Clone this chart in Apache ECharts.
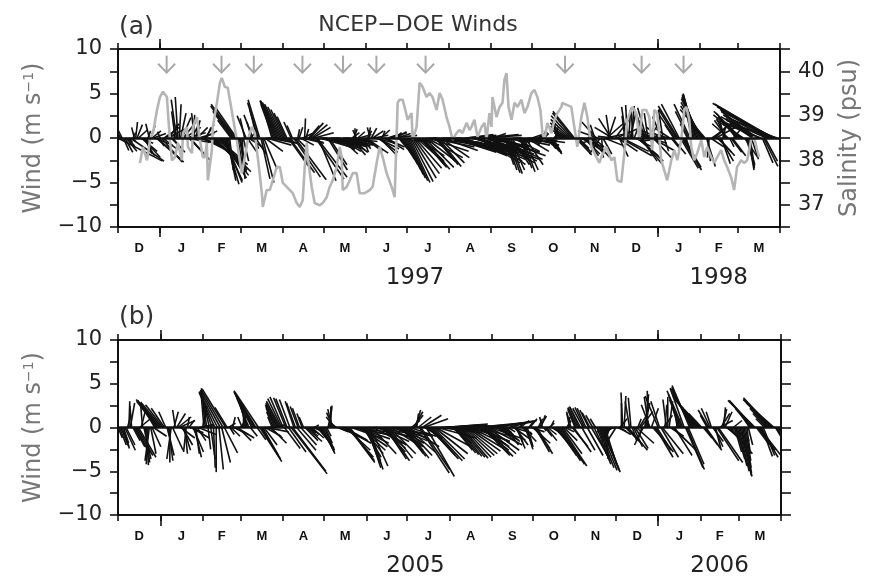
<!DOCTYPE html>
<html><head><meta charset="utf-8">
<script src="https://cdn.jsdelivr.net/npm/echarts@6/dist/echarts.min.js"></script>
<style>html,body{margin:0;padding:0;background:#fff}#c{width:870px;height:578px}</style>
</head><body><div id="c"></div>
<script>
// ---- axis categories (days since 1 Dec of first year) ----
const monthStarts = [0,31,62,90,121,151,182,212,243,274,304,335,365,396,427,455,486];
const monthLetters = ['D','J','F','M','A','M','J','J','A','S','O','N','D','J','F','M'];
const yearTicks = [31, 396];
const yearLabelPos = [218, 441];
const yearsA = ['1997','1998'];
const yearsB = ['2005','2006'];
const windTicks = [-10,-5,0,5,10];
const salinityTicks = [37,38,39,40];

// ---- gray arrows (days) ----
const arrowDays = [35.7,76,99.7,135.4,165.2,189.7,225.8,328.2,384.4,415.2];
const arrowLevel = 8.3;

// ---- panel (a) daily wind [u, v] m/s, 1 Dec 1996 - 31 Mar 1998 ----
const windA = [
[5.0,-2.6],[-0.6,1.2],[-0.8,1.4],[-0.5,1.0],[0.6,-1.4],[0.9,-1.6],[1.2,-1.5],[0.8,-0.9],[0.4,-0.5],[3.8,-2.6],[0.5,-0.4],
[0.3,0.6],[-0.3,1.2],[0.2,1.8],[0.6,1.5],[1.0,0.9],[1.5,-0.6],[1.8,-1.5],[2.0,-2.2],[1.2,-2.0],[0.8,-1.8],
[0.5,-1.2],[0.3,0.8],[-0.4,1.6],[0.5,1.4],[1.0,0.8],[1.4,0.5],[2.0,-0.8],[3.1,-2.7],[2.8,-2.6],[0.6,-0.9],
[-0.3,0.7],[2.3,-2.7],[1.5,-1.2],[0.8,0.6],[1.5,1.2],[2.0,1.0],[1.2,1.6],[0.5,0.4],[0.8,-0.8],[1.4,-1.6],
[0.3,1.5],[-0.4,3.0],[-0.6,4.3],[-0.3,4.6],[0.2,3.8],[0.6,2.8],[1.0,2.3],[1.4,1.8],[1.8,1.2],[2.2,0.6],
[2.5,-0.5],[2.4,-2.5],[1.6,-1.8],[0.8,1.5],[0.2,2.6],[-0.3,2.8],[0.5,2.0],[1.2,1.2],[1.8,0.5],[2.0,-0.6],
[2.5,-1.0],[2.8,-1.4],[1.5,0.8],[1.0,1.5],[0.5,1.2],[1.8,-0.6],[3.0,-2.0],[3.5,-2.8],[3.6,-3.2],[3.8,-3.6],
[3.2,-3.4],[2.8,-2.6],[3.4,-3.0],[3.6,-3.8],[3.2,-4.2],[2.8,-4.5],[2.2,-4.8],[2.0,-5.0],[1.5,-5.2],[1.0,-4.8],
[0.8,-4.2],[0.4,-3.6],[-1.5,2.0],[-2.2,3.0],[-2.6,3.6],[-2.7,3.8],[-2.4,3.5],[0.5,-3.0],[0.8,-3.8],[0.5,-4.6],
[0.3,-3.8],[0.6,-2.6],[-0.5,2.2],[-1.0,2.5],[1.0,-1.5],[1.5,-1.0],[0.8,0.8],[-0.5,1.8],[-1.0,2.6],[0.5,-1.2],
[1.2,-1.8],[-0.8,3.2],[-1.2,4.0],[-1.3,4.3],[1.0,-4.6],[1.3,-5.0],[1.5,-3.5],[2.0,-1.5],[2.8,-0.8],[3.0,-0.4],
[3.2,-0.6],[2.5,-0.3],[-0.8,2.8],[-1.4,3.8],[-1.6,4.1],[-1.8,4.2],[-1.9,4.2],[-2.0,4.1],[-2.0,4.0],[-1.9,3.8],
[-1.7,3.5],[-1.5,3.2],[-1.3,2.8],[-1.1,2.4],[2.5,-3.5],[2.8,-3.9],[-0.8,1.8],[-0.6,1.4],[3.0,-4.4],[3.5,-4.7],
[1.0,-1.0],[0.2,1.0],[0.4,1.2],[1.5,-0.8],[2.5,-0.6],[1.0,0.5],[0.1,2.2],[0.3,1.0],[1.8,-0.5],[1.2,1.4],
[1.5,1.7],[1.8,1.5],[2.0,1.2],[2.2,0.6],[3.2,-4.6],[3.4,-4.4],[2.0,-4.8],[3.5,-1.0],[4.0,-0.8],[4.2,-0.6],
[4.0,-0.8],[3.6,-1.0],[3.2,-1.2],[2.2,-3.6],[2.0,-3.0],[3.5,-1.2],[4.0,-1.0],[4.2,-0.9],[3.8,-0.7],[3.5,-0.6],
[3.0,-0.8],[2.5,-1.5],[2.0,-1.8],[1.5,-1.4],[2.6,-0.8],[3.2,-0.5],[3.6,-0.4],[3.0,-0.8],[2.2,-1.6],[1.8,-1.9],
[1.5,-1.3],[0.8,0.6],[0.4,1.0],[0.0,1.1],[-0.4,0.9],[0.8,0.7],[1.4,0.4],[1.2,-0.6],[1.0,-1.2],[0.6,-1.6],
[2.0,-1.5],[2.5,-1.7],[0.5,0.8],[0.2,1.2],[-0.3,1.2],[0.6,1.1],[1.2,0.8],[1.6,0.3],[2.2,-0.6],[2.5,-1.2],
[2.2,-1.6],[1.8,-1.8],[1.0,0.9],[0.3,0.8],[1.5,-0.7],[2.2,-1.0],[2.0,-1.3],[1.2,0.4],[2.0,0.6],[3.0,0.3],
[4.0,-0.3],[4.5,-0.5],[0.8,0.6],[1.2,0.7],[1.5,0.5],[1.0,-1.2],[1.3,-1.8],[1.5,-2.4],[1.7,-3.0],[1.9,-3.6],
[2.0,-4.1],[2.1,-4.5],[2.2,-4.8],[2.3,-5.0],[2.5,-4.9],[2.7,-4.5],[2.9,-4.0],[3.0,-3.4],[3.2,-2.8],[3.0,-2.0],
[2.8,-2.6],[2.7,-3.0],[2.8,-3.3],[3.0,-3.5],[3.3,-3.3],[3.6,-2.8],[4.0,-2.2],[4.5,-1.5],[5.0,-1.0],[5.4,-0.6],
[5.5,-0.5],[5.0,-0.8],[2.2,-2.6],[2.4,-3.0],[2.6,-3.2],[2.8,-2.8],[3.2,-2.2],[4.0,-1.4],[5.0,-1.0],[5.5,-0.9],
[5.8,-1.0],[6.0,-1.1],[5.6,-1.3],[5.2,-1.5],[5.0,-1.6],[4.6,-1.2],[4.2,-0.8],[4.8,-1.0],[5.4,-1.3],[5.8,-1.5],
[6.0,-1.7],[5.6,-1.9],[5.0,-2.0],[4.5,-1.8],[3.5,0.3],[3.0,0.4],[4.0,0.2],[5.0,-0.5],[5.6,-1.2],[6.0,-1.6],
[6.2,-2.0],[5.8,-2.2],[5.5,-2.4],[5.0,-2.6],[4.6,-2.8],[4.0,-1.5],[4.5,0.3],[4.0,0.4],[5.0,-1.0],[5.4,-1.8],
[5.8,-2.4],[5.2,-2.8],[4.0,-3.0],[2.5,-0.6],[1.5,0.5],[4.0,-1.0],[5.0,-1.6],[5.5,-2.0],[5.0,-2.4],[4.2,-2.6],
[3.0,-2.2],[2.0,-1.0],[3.0,-0.5],[1.0,-3.0],[1.2,-3.6],[1.4,-3.9],[1.5,-4.0],[1.6,-3.6],[2.0,-3.0],[3.0,-1.5],
[4.0,-0.8],[4.5,-0.5],[3.5,-0.3],[2.5,-0.5],[1.0,-2.6],[1.2,-3.4],[1.4,-3.8],[1.6,-3.6],[2.0,-3.0],[2.5,-1.5],
[3.5,-0.8],[4.0,-0.5],[3.0,-0.3],[1.5,0.5],[0.8,-0.4],[0.5,-0.8],[0.6,-0.5],[0.8,0.4],[1.0,0.6],[0.6,0.5],
[0.4,0.4],[0.3,0.8],[0.5,0.5],[0.8,-0.8],[1.0,-1.2],[1.2,-1.5],[1.3,-1.7],[1.2,-1.8],[1.0,-1.6],[0.6,0.6],
[0.3,1.2],[-0.2,1.6],[-0.6,1.8],[-0.8,2.0],[-1.0,1.5],[0.5,0.3],[-0.5,0.3],[-1.2,0.6],[-1.6,0.9],[-1.9,1.3],
[-2.1,1.7],[-2.2,2.1],[-2.3,2.5],[-2.3,2.8],[-2.4,3.0],[1.8,-1.9],[1.5,-1.5],[1.2,-1.2],[2.0,-0.8],[2.5,-1.0],
[2.2,-1.4],[1.8,-1.8],[1.5,-2.0],[0.8,-1.2],[0.5,0.4],[0.2,0.8],[1.5,-1.8],[2.0,-2.2],[1.2,-1.0],[-0.5,1.5],
[-1.6,1.8],[-2.2,0.8],[-2.0,-0.6],[-1.2,-1.8],[0.2,-2.2],[1.0,-1.8],[2.0,-0.8],[2.4,0.5],[1.8,1.6],[0.8,2.4],
[-0.4,2.6],[-1.4,2.2],[-2.0,1.2],[-1.8,0.2],[1.5,2.0],[2.3,1.0],[2.2,-1.5],[1.0,-2.1],[3.5,-2.0],[3.0,-1.5],
[0.5,0.8],[-0.3,2.5],[-0.5,3.5],[-0.2,3.7],[0.2,3.2],[0.6,2.6],[0.3,3.6],[-0.2,3.4],[0.8,2.2],[1.8,-1.0],
[2.4,-2.0],[2.8,-2.6],[2.5,-2.9],[1.8,-2.6],[1.2,-2.0],[-0.8,2.6],[-1.2,3.2],[-1.0,3.4],[-0.4,2.8],[1.0,1.5],
[1.8,-0.6],[2.5,-1.4],[2.0,-2.2],[-1.5,0.5],[-2.0,0.2],[-2.0,0.4],[-1.8,0.8],[-1.5,1.2],[-1.0,2.4],[-0.5,3.2],
[0.5,-1.5],[-2.2,0.3],[-2.5,-0.3],[-2.0,0.6],[-1.5,1.0],[1.0,-1.2],[1.5,-1.8],[-1.0,1.5],[-1.8,2.6],[-2.0,3.2],
[-2.2,3.6],[-2.0,3.8],[2.0,-3.4],[2.2,-3.6],[2.0,-3.3],[1.2,-2.4],[0.5,-1.5],[-0.8,1.6],[-1.5,3.0],[-1.8,3.8],
[-0.8,4.3],[-1.0,4.6],[-1.2,4.8],[-1.4,5.0],[-1.6,4.9],[-1.8,4.8],[-2.0,4.6],[-2.2,4.4],[-2.4,4.0],[-2.6,3.6],
[-2.8,3.2],[1.0,-3.2],[0.3,-2.6],[-0.2,-2.2],[1.5,-1.0],[1.2,0.8],[1.6,1.4],[2.0,1.8],[2.2,1.2],[1.6,-1.6],
[1.8,-2.0],[1.5,-2.6],[1.0,-2.9],[0.4,1.5],[-0.5,2.0],[-1.0,2.2],[-1.4,2.0],[-1.8,1.6],[0.5,-1.0],[1.2,-1.6],
[1.5,-2.0],[0.8,1.0],[-0.6,1.4],[-1.5,1.8],[-2.2,2.4],[-2.6,2.8],[-3.0,3.0],[-3.2,2.6],[-3.0,2.0],[1.5,-2.2],
[1.0,-3.0],[0.8,-3.4],[0.6,-3.6],[0.5,-3.2],[0.8,-2.4],[-2.5,1.6],[-3.2,2.2],[-3.6,2.6],[-4.0,3.0],[-4.2,2.4],
[-4.0,1.8],[-3.6,1.4],[1.2,-2.8],[1.6,-3.2],[1.4,-2.6],[-4.5,2.0],[-5.0,2.6],[-5.5,3.2],[-6.0,3.5],[-6.4,3.8],
[-6.8,3.9],[-6.0,3.0],[-5.2,2.2],[-4.6,1.4],[2.0,-2.8]
];

// ---- panel (a) salinity [day, psu] ----
const salinity = [
[16.1,37.94],[18.3,38.30],[21.3,38.00],[23.5,38.46],[25.7,38.61],[28.6,39.13],[30.8,39.42],[33.0,39.54],[35.9,39.42],[36.7,39.06],
[38.1,38.46],[39.6,38.00],[41.8,38.07],[44.0,38.39],[46.9,38.00],[47.7,38.61],[50.6,38.75],[51.3,38.30],[54.3,38.16],[55.0,38.75],
[57.9,38.97],[60.1,38.46],[62.3,38.07],[63.8,38.07],[65.2,38.39],[66.0,37.55],[68.9,38.23],[69.6,38.75],[72.6,39.29],[74.8,39.74],
[76.2,39.85],[78.4,39.65],[80.6,39.63],[82.1,39.36],[84.3,38.97],[87.2,38.46],[89.4,38.00],[90.9,37.71],[93.1,38.07],[95.3,38.46],
[98.2,38.75],[100.4,38.61],[102.6,38.07],[105.6,37.26],[106.3,36.95],[109.2,37.33],[111.4,37.33],[113.6,37.55],[116.6,37.85],[118.8,37.85],
[121.0,37.49],[123.9,37.40],[126.1,37.33],[128.3,37.26],[131.2,37.04],[133.4,36.95],[135.6,37.10],[137.1,37.85],[138.6,38.39],[139.3,38.07],
[142.2,37.40],[144.4,37.04],[148.1,36.99],[150.3,37.04],[153.2,37.17],[155.4,37.40],[157.6,37.55],[160.6,37.85],[162.8,38.30],[164.2,38.07],
[165.0,37.33],[167.9,37.40],[170.1,37.55],[172.3,37.71],[175.2,37.71],[177.4,37.26],[181.1,37.26],[184.8,37.33],[186.9,37.40],[189.9,37.94],
[192.1,38.30],[194.3,38.07],[197.2,37.71],[200.9,37.40],[203.1,37.17],[205.3,39.29],[206.7,39.36],[208.9,39.36],[210.4,39.20],[212.6,38.91],
[215.5,39.06],[216.3,38.46],[219.2,38.75],[221.4,39.74],[223.6,39.65],[226.5,39.42],[228.7,39.51],[230.9,39.42],[233.9,39.13],[236.1,39.51],
[238.3,39.36],[241.2,38.97],[243.4,38.75],[245.6,38.46],[248.5,38.61],[250.7,38.68],[252.9,38.61],[255.9,38.84],[258.1,38.68],[259.5,38.75],
[261.7,38.91],[263.9,38.52],[266.9,38.75],[269.1,38.84],[270.5,38.46],[272.7,39.06],[274.2,38.75],[274.9,39.42],[277.9,38.97],[280.1,39.20],
[282.3,39.29],[283.7,39.81],[285.2,39.96],[286.7,39.20],[288.9,38.91],[291.1,39.29],[293.3,39.20],[296.2,39.36],[298.4,39.06],[300.6,39.20],
[303.5,39.51],[305.7,39.58],[307.9,39.42],[310.1,39.13],[311.6,38.61],[313.0,38.46],[315.2,38.84],[318.2,38.61],[320.4,38.91],[322.6,39.06],
[325.5,39.20],[326.2,39.29],[329.9,39.24],[332.8,39.20],[335.0,38.75],[337.2,38.30],[340.2,38.97],[342.4,39.29],[344.6,38.97],[347.5,38.30],
[351.2,38.07],[353.4,37.94],[354.8,38.07],[358.5,38.30],[362.2,38.00],[364.4,38.07],[366.6,37.55],[369.5,37.51],[371.7,38.16],[373.9,38.91],
[377.6,39.20],[380.5,39.06],[382.7,38.46],[384.9,39.13],[387.8,39.13],[390.0,38.97],[392.2,38.23],[393.7,39.13],[395.9,39.06],[398.8,38.00],
[401.0,37.78],[403.2,37.55],[406.2,38.00],[408.4,38.23],[410.6,38.00],[413.5,38.46],[415.7,39.13],[417.2,39.20],[419.4,38.91],[420.8,38.30],
[423.0,38.00],[425.2,38.16],[428.2,38.46],[430.4,38.07],[432.6,38.30],[435.5,38.07],[437.7,37.94],[439.9,38.07],[442.8,38.23],[445.0,38.00],
[447.2,37.85],[450.1,37.62],[452.3,37.33],[454.5,37.85],[457.5,38.00],[459.7,37.94],[461.9,38.00],[464.8,38.46],[467.0,38.52],[469.2,38.23],
[470.7,38.07]
];

// ---- panel (b) daily wind [u, v] m/s, 1 Dec 2004 - 31 Mar 2006 ----
const windB = [
[0.5,-1.2],[0.8,-2.0],[1.0,-2.4],[0.8,-2.2],[0.6,-1.8],[1.2,-2.6],[1.0,-2.0],[0.4,1.5],[0.1,3.0],[0.5,2.8],[-0.2,2.5],
[0.8,-1.5],[1.2,-2.2],[1.5,-2.8],[1.8,-3.2],[2.0,-3.4],[1.2,1.0],[0.5,2.0],[-0.2,2.4],[0.8,-3.6],[0.5,-4.0],
[0.2,-4.3],[-0.2,-4.2],[-0.5,-3.8],[0.6,-3.0],[1.0,-2.2],[1.5,-1.0],[-1.5,2.5],[-2.0,2.8],[-2.4,3.0],[-2.6,3.2],
[-2.6,3.1],[-2.4,2.9],[-2.0,2.6],[-1.5,2.2],[-0.8,1.8],[0.8,-3.2],[0.5,-3.8],[0.0,-4.0],[-0.5,-3.6],[1.2,-2.6],
[0.5,1.8],[-0.3,2.0],[1.0,1.6],[1.5,1.2],[1.8,0.8],[1.6,-1.2],[1.2,-2.0],[0.8,-2.6],[0.3,-3.0],[-0.3,-2.8],
[0.2,1.2],[0.6,0.8],[1.5,-0.6],[2.0,-1.2],[1.2,-2.8],[0.8,-3.4],[0.4,-3.0],[1.0,-1.5],[2.0,-0.8],[1.5,0.3],
[1.5,0.3],[0.5,2.5],[-0.3,3.6],[-0.4,4.2],[-0.6,4.5],[0.3,-2.5],[-1.0,4.3],[0.5,-3.6],[-1.4,4.0],[0.2,-4.6],
[-1.8,4.0],[0.0,-5.1],[-2.1,4.1],[0.5,-4.8],[-2.3,4.2],[1.0,-4.0],[-2.5,4.3],[1.5,-2.9],[-2.7,4.4],[-1.4,2.3],
[0.8,0.5],[0.5,-0.8],[1.0,-1.0],[0.3,1.2],[1.2,-0.6],[1.5,-0.8],[2.0,-1.2],[1.5,-1.5],[1.0,0.4],[0.5,0.8],
[-0.5,1.2],[0.0,1.7],[0.1,1.8],[-0.6,2.4],[-1.0,3.0],[-1.4,3.4],[0.8,-1.0],[-1.8,3.6],[-2.0,3.8],[-2.3,4.0],
[-2.5,4.1],[1.0,-1.4],[-2.8,4.2],[2.5,-3.9],[2.2,-3.6],[1.8,-3.2],[1.5,-2.0],[1.8,-1.0],[2.5,-0.5],[2.0,0.3],
[1.5,-1.2],[1.8,-1.8],[-0.5,1.2],[-0.8,1.8],[-1.0,2.2],[-1.2,2.4],[-1.4,2.6],[-1.5,2.8],[-1.6,3.0],[-1.6,3.3],
[-1.5,3.5],[1.8,-2.4],[-1.4,3.4],[-1.3,3.3],[2.0,-2.8],[-1.2,3.2],[4.1,-5.3],[3.8,-5.0],[-1.0,3.0],[-1.0,2.8],
[2.2,-2.6],[-0.9,2.4],[-0.8,2.2],[1.8,-2.0],[-0.6,1.6],[-0.5,1.2],[1.5,-1.5],[1.8,-1.6],[1.2,-1.0],[0.8,-0.6],
[1.0,-0.8],[1.4,-1.2],[1.0,-0.4],[0.5,0.3],[0.8,-0.5],[1.2,-1.4],[1.5,-2.0],[1.6,-2.4],[1.5,-2.8],[1.4,-3.0],
[1.2,-2.6],[0.8,-1.8],[0.5,-1.0],[0.2,1.0],[0.3,2.5],[0.0,2.4],[-0.5,2.1],[-0.8,1.7],[-1.0,1.2],[-0.8,0.6],
[1.2,-0.5],[2.0,-0.8],[2.5,-1.2],[3.0,-1.5],[3.2,-1.8],[2.5,-1.4],[2.8,-2.6],[3.0,-3.4],[3.0,-4.0],[2.8,-3.8],
[3.5,-1.2],[4.0,-0.8],[4.5,-0.6],[4.2,-0.9],[3.8,-1.3],[3.5,-1.8],[3.2,-2.2],[2.8,-2.6],[2.4,-3.0],[2.0,-3.4],
[1.8,-3.8],[1.6,-4.2],[1.5,-4.6],[1.6,-4.8],[2.0,-4.4],[2.8,-3.0],[3.5,-1.8],[4.0,-1.0],[4.5,-0.8],[4.0,-1.2],
[3.5,-1.6],[3.0,-2.0],[2.8,-2.4],[2.6,-2.8],[2.5,-3.2],[2.4,-3.6],[2.6,-3.8],[2.8,-3.5],[3.0,-3.0],[3.5,-2.2],
[4.0,-1.5],[4.5,-1.0],[4.0,-0.8],[3.5,-1.2],[3.0,-1.8],[2.8,-2.2],[2.6,-2.6],[2.5,-3.0],[2.6,-3.3],[2.8,-3.5],
[3.0,-3.2],[3.2,-2.8],[3.5,-2.2],[3.0,-1.0],[1.0,0.8],[1.2,1.4],[1.0,1.8],[0.6,2.0],[0.2,1.6],[1.5,1.2],
[3.4,-5.2],[3.3,-4.8],[2.2,1.4],[2.8,1.0],[2.0,-1.2],[3.2,-5.6],[2.8,-2.6],[3.0,-3.2],[3.2,-3.6],[3.5,-3.8],
[3.6,-3.6],[3.8,-3.0],[4.0,-2.2],[4.5,-1.2],[5.0,-0.6],[5.2,-0.4],[4.8,-0.2],[4.5,0.3],[5.0,0.4],[5.0,0.2],
[4.6,0.3],[4.0,0.2],[3.0,-0.5],[2.5,-1.2],[2.2,-1.8],[2.0,-2.3],[2.0,-2.6],[2.2,-2.9],[2.4,-3.1],[2.6,-3.3],
[2.8,-3.4],[3.0,-3.5],[3.2,-3.4],[3.4,-3.2],[3.6,-3.0],[3.8,-2.7],[4.0,-2.4],[4.2,-2.0],[4.4,-1.6],[4.6,0.3],
[5.0,0.4],[5.2,0.5],[4.0,-1.0],[3.6,-1.6],[3.4,-2.2],[3.2,-2.6],[3.0,-3.0],[3.0,-3.2],[3.2,-3.3],[3.4,-3.0],
[3.6,-2.6],[3.8,-2.0],[4.0,-1.4],[4.5,0.6],[5.0,0.8],[4.5,0.7],[2.0,-0.8],[2.5,-1.5],[2.2,-1.8],[1.5,-1.0],
[1.2,-0.6],[1.5,-1.2],[1.8,-1.6],[1.5,-2.0],[1.0,-1.2],[0.8,-0.5],[1.2,0.4],[1.8,0.6],[2.2,-0.6],[2.0,-1.4],
[1.5,-2.0],[1.0,-2.4],[0.6,-1.8],[0.5,0.5],[1.0,0.8],[1.2,-0.8],[1.5,-1.6],[1.0,-2.2],[0.8,-2.5],[0.6,-2.0],
[0.5,0.6],[0.8,1.0],[1.5,-0.5],[2.0,-1.8],[1.8,-2.4],[1.6,-2.8],[1.8,-3.0],[0.5,1.0],[0.8,1.3],[0.5,1.4],
[-0.3,1.2],[0.3,-0.4],[0.8,-1.0],[1.2,-1.5],[1.0,-0.8],[0.6,0.5],[0.4,0.8],[1.0,-0.6],[1.5,-1.2],[1.8,-2.0],
[2.0,-2.6],[2.2,-3.2],[2.5,-3.8],[2.8,-4.2],[2.9,-4.4],[2.2,-3.0],[1.5,-1.5],[1.0,-0.5],[0.5,0.8],[0.2,1.2],
[-0.3,1.6],[-0.5,1.8],[1.8,-2.2],[2.0,-2.8],[-0.8,2.0],[-1.0,2.2],[-1.1,2.3],[-1.1,2.4],[-1.2,2.3],[1.5,-2.6],
[-1.2,2.2],[-1.1,2.3],[-1.0,2.2],[1.8,-3.2],[-1.0,2.0],[-0.9,1.7],[2.0,-3.4],[-0.8,1.4],[1.8,-3.8],[-0.6,1.0],
[1.6,-4.2],[1.8,-4.6],[2.0,-4.9],[2.2,-5.1],[2.0,-5.0],[1.7,-4.7],[1.3,-4.2],[0.2,-3.6],[-0.2,-3.0],[-0.6,-2.4],
[-1.0,-1.8],[-1.2,-1.2],[-1.5,-0.8],[-2.0,-0.5],[-1.0,-1.6],[1.0,-0.4],[1.4,-0.8],[0.8,1.0],[0.0,2.8],[-0.2,4.0],
[0.2,3.6],[1.2,-1.2],[1.8,-2.0],[2.2,-2.6],[-0.5,3.0],[-0.3,3.4],[0.5,-1.5],[1.0,-2.2],[1.5,-2.4],[2.0,-1.8],
[0.4,1.0],[1.0,1.6],[1.4,1.8],[-0.5,-1.5],[-1.0,-2.0],[0.6,2.8],[0.3,3.8],[0.0,4.2],[-0.5,3.5],[-1.0,2.6],
[0.8,2.2],[1.6,-1.8],[2.2,-2.8],[2.0,-3.4],[1.6,-2.6],[-1.5,3.6],[-1.0,3.0],[2.0,-3.4],[2.4,-3.0],[1.0,1.4],
[0.2,2.6],[-0.4,3.2],[0.0,3.5],[0.4,3.0],[1.5,-1.0],[2.2,-2.0],[2.6,-2.6],[2.0,-3.2],[0.5,1.0],[-0.3,1.8],
[-0.8,2.6],[-1.2,3.2],[-1.5,3.8],[-1.8,4.2],[-1.6,4.5],[2.0,-4.6],[2.0,-4.8],[1.8,-4.2],[-2.0,4.8],[-2.2,4.6],
[-2.4,4.4],[-2.5,4.0],[-2.5,3.6],[-2.4,3.2],[-2.2,2.8],[-2.0,2.4],[-1.8,2.0],[-1.5,1.6],[1.0,-1.2],[1.5,-2.0],
[1.8,-2.6],[-0.8,1.4],[-1.2,2.0],[-1.0,2.2],[-0.6,1.8],[1.2,-1.6],[1.0,-2.2],[0.6,-2.4],[2.5,-3.8],[2.8,-4.0],
[1.5,0.8],[1.0,1.6],[0.5,2.1],[0.2,2.3],[0.8,1.8],
[1.5,-1.2],[1.8,-1.8],[2.2,-2.4],[2.5,-3.0],[2.0,-1.5],[1.0,0.8],[0.8,-2.8],[1.0,-3.6],[1.1,-4.4],[1.2,-5.0],
[1.3,-5.5],[1.2,-5.6],[1.0,-5.2],[0.8,-4.6],[0.6,-3.8],[0.4,-3.0],[0.5,-2.0],[-1.0,1.5],[-1.8,2.2],[-2.4,2.8],
[-2.8,3.1],[-3.1,3.1],[1.5,-2.0],[2.0,-2.6],[2.5,-3.2],[2.0,-3.4],[1.2,-3.3],[1.3,-3.2],[-1.0,1.0],[-1.5,1.6],
[-2.0,2.2],[-2.5,2.8],[-3.0,3.2],[-3.2,3.4],[-3.4,3.2],[-3.2,2.8],[1.5,-2.5],[1.8,-3.2],[2.0,-3.6],[2.2,-3.2]
];

// ---------------------------------------------------------------
const F = '"DejaVu Sans", sans-serif';
const INK = '#111';
const monthMids = monthStarts.slice(0, -1).map((s, i) => (s + monthStarts[i + 1]) / 2);
function nearestIdx(arr, v) { let b = 0; arr.forEach((a, i) => { if (Math.abs(a - v) < Math.abs(arr[b] - v)) b = i; }); return b; }
const minus = v => (v < 0 ? '\u2212' + Math.abs(v) : String(v));

function xAx(grid, pos, ticks, tickLen, label) {
  return {
    type: 'value', gridIndex: grid, position: pos, min: 0, max: 486,
    axisLine: { show: true, onZero: false, lineStyle: { color: INK, width: 2 } },
    axisTick: { show: true, inside: false, length: tickLen, customValues: ticks, lineStyle: { color: INK, width: 1.6 } },
    axisLabel: label || { show: false },
    splitLine: { show: false }, minorSplitLine: { show: false }
  };
}
function monthLabel() {
  return { show: true, customValues: monthMids, margin: 15, color: INK, fontFamily: '"Liberation Sans", Arial, sans-serif',
    fontWeight: 'bold', fontSize: 13, formatter: v => monthLetters[nearestIdx(monthMids, v)] };
}
function yearLabel(names) {
  return { show: true, customValues: yearLabelPos, margin: 40, color: '#222', fontFamily: F, fontSize: 23,
    formatter: v => names[nearestIdx(yearLabelPos, v)] };
}
const nameStyle = { color: '#777', fontFamily: F, fontSize: 24,
  rich: { sup: { color: '#777', fontFamily: F, fontSize: 14, verticalAlign: 'top', padding: [0, 0, 10, 0] } } };
function windAxis(grid, pos, withLabels) {
  return {
    type: 'value', gridIndex: grid, position: pos, min: -10, max: 10, interval: 5,
    axisLine: { show: true, onZero: false, lineStyle: { color: INK, width: 2 } },
    axisTick: { show: true, inside: false, length: pos === 'left' ? 8 : 10, lineStyle: { color: INK, width: 1.6 } },
    minorTick: { show: true, splitNumber: 2, length: pos === 'left' ? 8 : 10, lineStyle: { color: INK, width: 1.6 } },
    axisLabel: withLabels ? { show: true, margin: 16, color: '#222', fontFamily: F, fontSize: 21, formatter: minus } : { show: false },
    splitLine: { show: false }, minorSplitLine: { show: false },
    name: withLabels ? 'Wind (m s{sup|\u22121})' : '', nameLocation: 'middle', nameRotate: 90, nameGap: 72, nameTextStyle: nameStyle
  };
}

function stick(params, api) {
  const d = api.value(0), u = api.value(1), v = api.value(2);
  const p = api.coord([d, 0]);
  const s = p[1] - api.coord([d, 1])[1];
  return { type: 'line', shape: { x1: p[0], y1: p[1], x2: p[0] + u * s, y2: p[1] - v * s },
    style: { stroke: '#111', lineWidth: 1.6 } };
}
function arrow(params, api) {
  const d = api.value(0), lvl = api.value(1);
  const s = api.coord([d, 0])[1] - api.coord([d, 1])[1];
  const c = api.coord([d, lvl]);
  const top = c[1] - 0.95 * s, bot = c[1] + 0.95 * s, hy = bot - 1.0 * s;
  const st = { stroke: '#a8a8a8', lineWidth: 2, fill: null };
  return { type: 'group', children: [
    { type: 'line', shape: { x1: c[0], y1: top, x2: c[0], y2: bot }, style: st },
    { type: 'polyline', shape: { points: [[c[0] - 8.5, hy], [c[0], bot], [c[0] + 8.5, hy]] }, style: st }
  ] };
}
const zeroMark = { silent: true, symbol: ['none', 'none'], label: { show: false },
  lineStyle: { color: INK, width: 2.5, type: 'solid' }, data: [{ yAxis: 0 }] };

const option = {
  animation: false,
  backgroundColor: '#fff',
  grid: [
    { left: 118, top: 49, width: 663, height: 178 },
    { left: 118, top: 340, width: 663, height: 177 }
  ],
  xAxis: [
    xAx(0, 'bottom', monthStarts, 6, monthLabel()),
    xAx(0, 'bottom', yearTicks, 10, yearLabel(yearsA)),
    xAx(0, 'top', monthStarts, 6),
    xAx(0, 'top', yearTicks, 10),
    xAx(1, 'bottom', monthStarts, 6, monthLabel()),
    xAx(1, 'bottom', yearTicks, 11, yearLabel(yearsB)),
    xAx(1, 'top', monthStarts, 6),
    xAx(1, 'top', yearTicks, 10)
  ],
  yAxis: [
    windAxis(0, 'left', true),
    {
      type: 'value', gridIndex: 0, position: 'right', min: 36.5, max: 40.5, interval: 0.5,
      axisLine: { show: true, onZero: false, lineStyle: { color: INK, width: 2 } },
      axisTick: { show: true, inside: false, length: 10, lineStyle: { color: INK, width: 1.6 } },
      axisLabel: { show: true, margin: 18, color: '#222', fontFamily: F, fontSize: 21,
        formatter: v => (salinityTicks.indexOf(Math.round(v * 100) / 100) >= 0 ? String(v) : '') },
      splitLine: { show: false },
      name: 'Salinity (psu)', nameLocation: 'middle', nameRotate: 90, nameGap: 58, nameTextStyle: nameStyle
    },
    windAxis(1, 'left', true),
    windAxis(1, 'right', false)
  ],
  graphic: [
    { type: 'text', left: 119, top: 15, style: { text: '(a)', font: '25px ' + F, fill: '#333' } },
    { type: 'text', x: 418, y: 25, style: { text: 'NCEP\u2212DOE Winds', font: '22px ' + F, fill: '#333', textAlign: 'center', textVerticalAlign: 'middle' } },
    { type: 'text', left: 119, top: 305, style: { text: '(b)', font: '25px ' + F, fill: '#333' } }
  ],
  series: [
    { type: 'custom', name: 'windA', xAxisIndex: 0, yAxisIndex: 0, clip: true, silent: true, z: 2,
      encode: { x: 0, y: 2 }, data: windA.map((w, i) => [i, w[0], w[1]]), renderItem: stick, markLine: zeroMark },
    { type: 'line', name: 'salinity', xAxisIndex: 0, yAxisIndex: 1, data: salinity, showSymbol: false, symbol: 'none',
      silent: true, z: 4, lineStyle: { color: '#b5b5b5', width: 2.6 } },
    { type: 'custom', name: 'arrows', xAxisIndex: 0, yAxisIndex: 0, silent: true, z: 5,
      encode: { x: 0, y: 1 }, data: arrowDays.map(d => [d, arrowLevel]), renderItem: arrow },
    { type: 'custom', name: 'windB', xAxisIndex: 4, yAxisIndex: 2, clip: true, silent: true, z: 2,
      encode: { x: 0, y: 2 }, data: windB.map((w, i) => [i, w[0], w[1]]), renderItem: stick, markLine: zeroMark }
  ]
};
const chart = echarts.init(document.getElementById('c'), null, { renderer: 'canvas' });
chart.setOption(option);
</script></body></html>
